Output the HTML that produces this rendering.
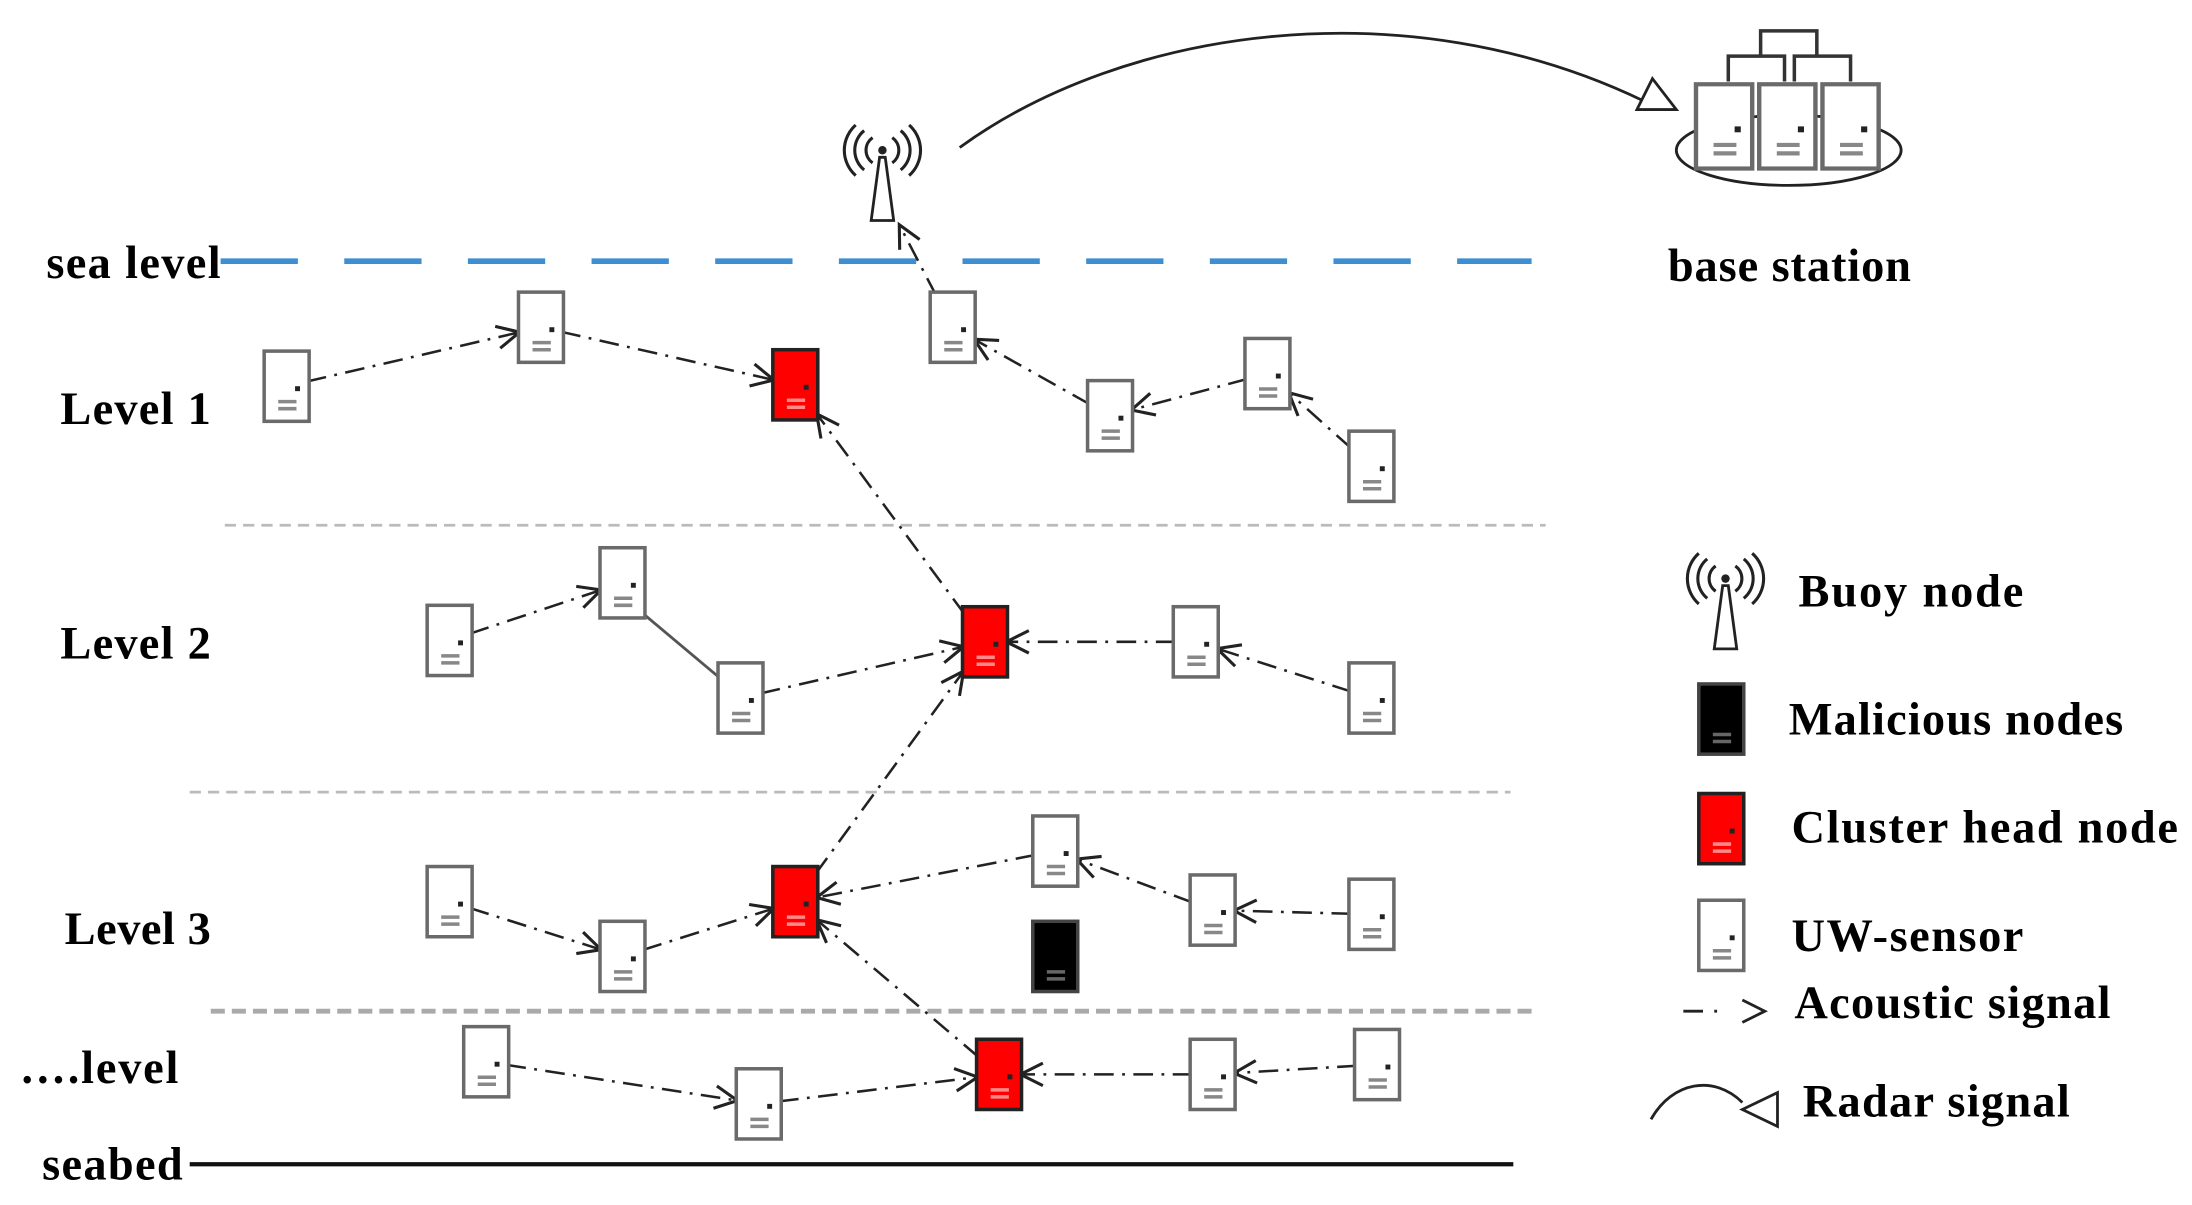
<!DOCTYPE html>
<html><head><meta charset="utf-8"><style>
html,body{margin:0;padding:0;background:#fff;}
svg{display:block;}
text{font-family:"Liberation Serif",serif;font-weight:bold;font-size:33px;fill:#000;}
</style></head><body>
<svg id="s" width="2192" height="1205" viewBox="0 0 1560 858" preserveAspectRatio="none" xmlns="http://www.w3.org/2000/svg">
<defs>
<g id="nw"><rect x="-16" y="-25" width="32" height="50" fill="#fff" stroke="#6a6a6a" stroke-width="2.5"/><rect x="6" y="0" width="3.5" height="3.5" fill="#222"/><path d="M-6 11H7M-6 16H7" stroke="#888" stroke-width="2.5"/></g>
<g id="nr"><rect x="-16" y="-25" width="32" height="50" fill="#f00" stroke="#222" stroke-width="2.5"/><rect x="6" y="0" width="3.5" height="3.5" fill="#222"/><path d="M-6 11H7M-6 16H7" stroke="#f88" stroke-width="2.5"/></g>
<g id="nb"><rect x="-16" y="-25" width="32" height="50" fill="#000" stroke="#444" stroke-width="2.5"/><path d="M-6 11H7M-6 16H7" stroke="#666" stroke-width="2.5"/></g>
<g id="tw"><path d="M-8 37 L-2 -8 L2 -8 L8 37 Z" fill="#fff" stroke="#222" stroke-width="2"/><circle cx="0" cy="-13" r="3" fill="#222"/>
<path d="M-7 -22 A11 11 0 0 0 -7 -4 M7 -22 A11 11 0 0 1 7 -4 M-13 -27 A18 18 0 0 0 -13 1 M13 -27 A18 18 0 0 1 13 1 M-19 -31 A24 24 0 0 0 -19 5 M19 -31 A24 24 0 0 1 19 5" fill="none" stroke="#222" stroke-width="2.2"/></g>
</defs>
<line x1="157" y1="186" x2="1090" y2="186" stroke="#3d8fd1" stroke-width="4" stroke-dasharray="55 33"/>
<line x1="160" y1="374" x2="1100" y2="374" stroke="#bbb" stroke-width="2" stroke-dasharray="8 5"/>
<line x1="135" y1="564" x2="1075" y2="564" stroke="#bbb" stroke-width="2" stroke-dasharray="8 5"/>
<line x1="150" y1="720" x2="1090" y2="720" stroke="#aaa" stroke-width="3.5" stroke-dasharray="10 5"/>
<line x1="135" y1="829" x2="1077" y2="829" stroke="#111" stroke-width="3"/>
<text x="33" y="198" textLength="124">sea level</text>
<text x="43" y="302" textLength="107">Level 1</text>
<text x="43" y="469" textLength="107">Level 2</text>
<text x="46" y="672" textLength="104">Level 3</text>
<text x="14" y="771" textLength="113">….level</text>
<text x="30" y="840" textLength="100">seabed</text>
<text x="1187" y="200" textLength="173">base station</text>
<text x="1280" y="432" textLength="160">Buoy node</text>
<text x="1273" y="523" textLength="238">Malicious nodes</text>
<text x="1275" y="600" textLength="275">Cluster head node</text>
<text x="1275" y="677" textLength="165">UW-sensor</text>
<text x="1277" y="725" textLength="225">Acoustic signal</text>
<text x="1283" y="795" textLength="190">Radar signal</text>
<path d="M683 105 C800 20 1000 -10 1170 72" fill="none" stroke="#222" stroke-width="2"/>
<path d="M1165 78 L1176 56 L1193 78 Z" fill="#fff" stroke="#222" stroke-width="2"/>
<ellipse cx="1273" cy="107" rx="80" ry="25" fill="#fff" stroke="#222" stroke-width="2"/>
<path d="M1253 40V22H1293V40M1230 58V40H1270V58M1277 58V40H1317V58" fill="none" stroke="#333" stroke-width="2.5"/>
<g id="bs"></g>
<use href="#tw" x="628" y="120"/>
<use href="#tw" x="1228" y="425"/>
<g id="links" fill="none" stroke="#222" stroke-width="1.8"></g>
<g id="nodes"></g>
<use href="#nb" x="1225" y="512"/>
<use href="#nr" x="1225" y="590"/>
<use href="#nw" x="1225" y="666"/>
<path d="M1198 720H1212M1220 720H1222" stroke="#222" stroke-width="2"/>
<path d="M1240 712L1256 720L1240 728" fill="none" stroke="#222" stroke-width="2"/>
<path d="M1175 797 C1190 770 1220 765 1240 785" fill="none" stroke="#222" stroke-width="2"/>
<path d="M1240 790 L1265 778 L1265 802 Z" fill="#fff" stroke="#222" stroke-width="2"/>
</svg>
<script>
var NS="http://www.w3.org/2000/svg";
function el(t,a,p){var e=document.createElementNS(NS,t);for(var k in a)e.setAttribute(k,a[k]);p.appendChild(e);return e;}
var bs=document.getElementById('bs');
[1227,1272,1317].forEach(function(x){var u=el('use',{href:'#nw',x:x,y:90},bs);u.setAttribute('transform','translate('+x+',90) scale(1.25,1.2) translate('+(-x)+',-90)');});
var N={a:[204,275,'w'],b:[385,233,'w'],c:[566,274,'r'],d:[678,233,'w'],e:[790,296,'w'],f:[902,266,'w'],g:[976,332,'w'],
h:[320,456,'w'],i:[443,415,'w'],j:[527,497,'w'],k:[701,457,'r'],l:[851,457,'w'],m:[976,497,'w'],
n:[320,642,'w'],o:[443,681,'w'],p:[566,642,'r'],q:[751,606,'w'],r:[751,681,'b'],s:[863,648,'w'],t:[976,651,'w'],
u:[346,756,'w'],v:[540,786,'w'],w:[711,765,'r'],x:[863,765,'w'],y:[980,758,'w'],T:[640,160,'T']};
var L=[['a','b'],['b','c'],['k','c'],['d','T'],['e','d'],['f','e'],['g','f'],['h','i'],['j','k'],['l','k'],['m','l'],
['n','o'],['o','p'],['p','k'],['q','p'],['s','q'],['t','s'],['u','v'],['v','w'],['x','w'],['y','x'],['w','p']];
var lg=document.getElementById('links');
function clip(a,b){var dx=b[0]-a[0],dy=b[1]-a[1];var tx=dx?16/Math.abs(dx):1e9,ty=dy?25/Math.abs(dy):1e9;return Math.min(tx,ty);}
L.forEach(function(p){var A=N[p[0]],B=N[p[1]];var dx=B[0]-A[0],dy=B[1]-A[1];
var t1=clip(A,B)*0.9,t2=B[2]=='T'?0:clip(B,A)*0.95;
var x1=A[0]+dx*t1,y1=A[1]+dy*t1,x2=B[0]-dx*t2,y2=B[1]-dy*t2;
el('line',{x1:x1,y1:y1,x2:x2,y2:y2,'stroke-dasharray':'14 6 2 6'},lg);
var len=Math.hypot(dx,dy),ux=dx/len,uy=dy/len,s=16,w=8;
el('path',{d:'M'+(x2-ux*s-uy*w)+' '+(y2-uy*s+ux*w)+'L'+x2+' '+y2+'L'+(x2-ux*s+uy*w)+' '+(y2-uy*s-ux*w),'stroke-width':2.2},lg);});
el('line',{x1:453,y1:433,x2:515,y2:485,stroke:'#555','stroke-width':2},lg);
var ng=document.getElementById('nodes');
for(var k in N){var n=N[k];if(n[2]=='T')continue;el('use',{href:'#n'+n[2],x:n[0],y:n[1]},ng);}
</script>
</body></html>
